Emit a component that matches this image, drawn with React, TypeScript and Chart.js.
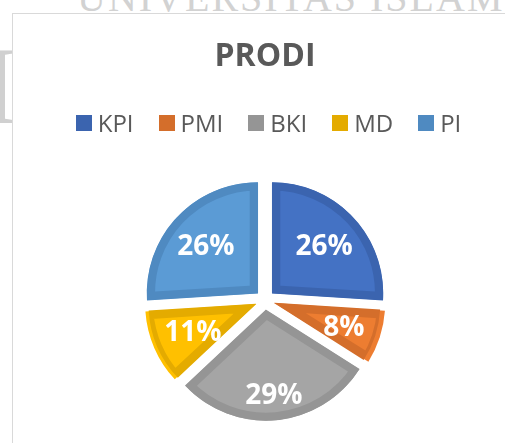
import React, { useEffect, useRef } from "react";
import { Chart, registerables } from "chart.js";

Chart.register(...registerables);

const chartTitle = "PRODI";
const categories = ["KPI", "PMI", "BKI", "MD", "PI"];
const percentages = [26, 8, 29, 11, 26];
const percentLabels = percentages.map((v) => `${v}%`);

const fillColors = ["#4472C4", "#ED7D31", "#A5A5A5", "#FFC000", "#5B9BD5"];
const edgeColors = ["#3B64AF", "#D46E2B", "#959595", "#E4AB00", "#4F8AC1"];
const labelRadius = [0.64, 0.69, 0.76, 0.64, 0.64];
const EXPLODE = 40; // Chart.js arc offset (translation = offset / 4)

const explodeFix = {
  id: "explodeFix",
  afterDatasetUpdate(chart: any, args: any) {
    const meta = chart.getDatasetMeta(args.index);
    meta.data.forEach((arc: any) => {
      const circ = arc.circumference || 0;
      const fix = 1 - Math.sin(Math.min(Math.PI, circ));
      arc.outerRadius = arc.outerRadius - (EXPLODE / 4) * fix;
    });
  },
};

const sliceLabels = {
  id: "sliceLabels",
  afterDatasetsDraw(chart: any) {
    const meta = chart.getDatasetMeta(0);
    const ctx = chart.ctx;
    ctx.save();
    const size = 28;
    ctx.font = `bold ${size}px 'Open Sans'`;
    ctx.fillStyle = "#ffffff";
    ctx.textAlign = "center";
    ctx.textBaseline = "alphabetic";
    meta.data.forEach((arc: any, i: number) => {
      const mid = (arc.startAngle + arc.endAngle) / 2;
      const r = EXPLODE / 4 + labelRadius[i] * arc.outerRadius;
      const x = arc.x + Math.cos(mid) * r;
      const y = arc.y + Math.sin(mid) * r;
      ctx.fillText(percentLabels[i], x, y + (size * 0.714) / 2);
    });
    ctx.restore();
  },
};

export default function App() {
  const canvasRef = useRef<HTMLCanvasElement | null>(null);

  useEffect(() => {
    if (!canvasRef.current) return;
    const chart = new Chart(canvasRef.current, {
      type: "pie",
      data: {
        labels: categories,
        datasets: [
          {
            data: percentages,
            backgroundColor: fillColors,
            borderColor: edgeColors,
            borderWidth: 8,
            borderAlign: "inner",
            offset: EXPLODE,
            hoverOffset: 0,
          } as any,
        ],
      },
      options: {
        responsive: false,
        animation: false,
        events: [],
        layout: { padding: { left: 134, right: 109, top: 0, bottom: 12 } },
        plugins: {
          legend: { display: false },
          tooltip: { enabled: false },
          title: {
            display: true,
            text: chartTitle,
            color: "#595959",
            font: { family: "'Open Sans'", size: 32, weight: "bold", lineHeight: 1.2 },
            padding: { top: 38, bottom: 92.6 },
          },
        },
      } as any,
      plugins: [explodeFix, sliceLabels],
    });
    return () => chart.destroy();
  }, []);

  return (
    <div
      style={{
        position: "absolute",
        left: 0,
        top: 0,
        width: 505,
        height: 443,
        overflow: "hidden",
        background: "#ffffff",
      }}
    >
      <div
        style={{
          position: "absolute",
          left: 77,
          top: -22.5,
          whiteSpace: "nowrap",
          fontFamily: "'Liberation Serif', serif",
          fontSize: 40,
          lineHeight: "40px",
          color: "#d2d2d2",
          letterSpacing: 2,
        }}
      >
        UNIVERSITAS ISLAM NEGERI
      </div>
      <div
        style={{
          position: "absolute",
          left: -62,
          top: 31,
          fontFamily: "'Liberation Serif', serif",
          fontSize: 110,
          lineHeight: "110px",
          color: "#d0d0d0",
        }}
      >
        H
      </div>
      <div
        style={{
          position: "absolute",
          left: 12,
          top: 13,
          width: 600,
          height: 500,
          border: "1px solid #d9d9d9",
          background: "#ffffff",
        }}
      />
      <canvas
        ref={canvasRef}
        width={505}
        height={443}
        style={{ position: "absolute", left: 0, top: 0, width: 505, height: 443 }}
      />
      <div
        style={{
          position: "absolute",
          left: 0,
          top: 109,
          width: 537,
          display: "flex",
          justifyContent: "center",
          alignItems: "center",
          gap: 25,
          fontFamily: "'Open Sans', sans-serif",
          fontSize: 24,
          lineHeight: "28px",
          color: "#595959",
        }}
      >
        {categories.map((c, i) => (
          <div key={c} style={{ display: "flex", alignItems: "center" }}>
            <span
              style={{
                display: "inline-block",
                width: 16,
                height: 16,
                background: edgeColors[i],
                marginRight: 6,
              }}
            />
            <span>{c}</span>
          </div>
        ))}
      </div>
    </div>
  );
}
